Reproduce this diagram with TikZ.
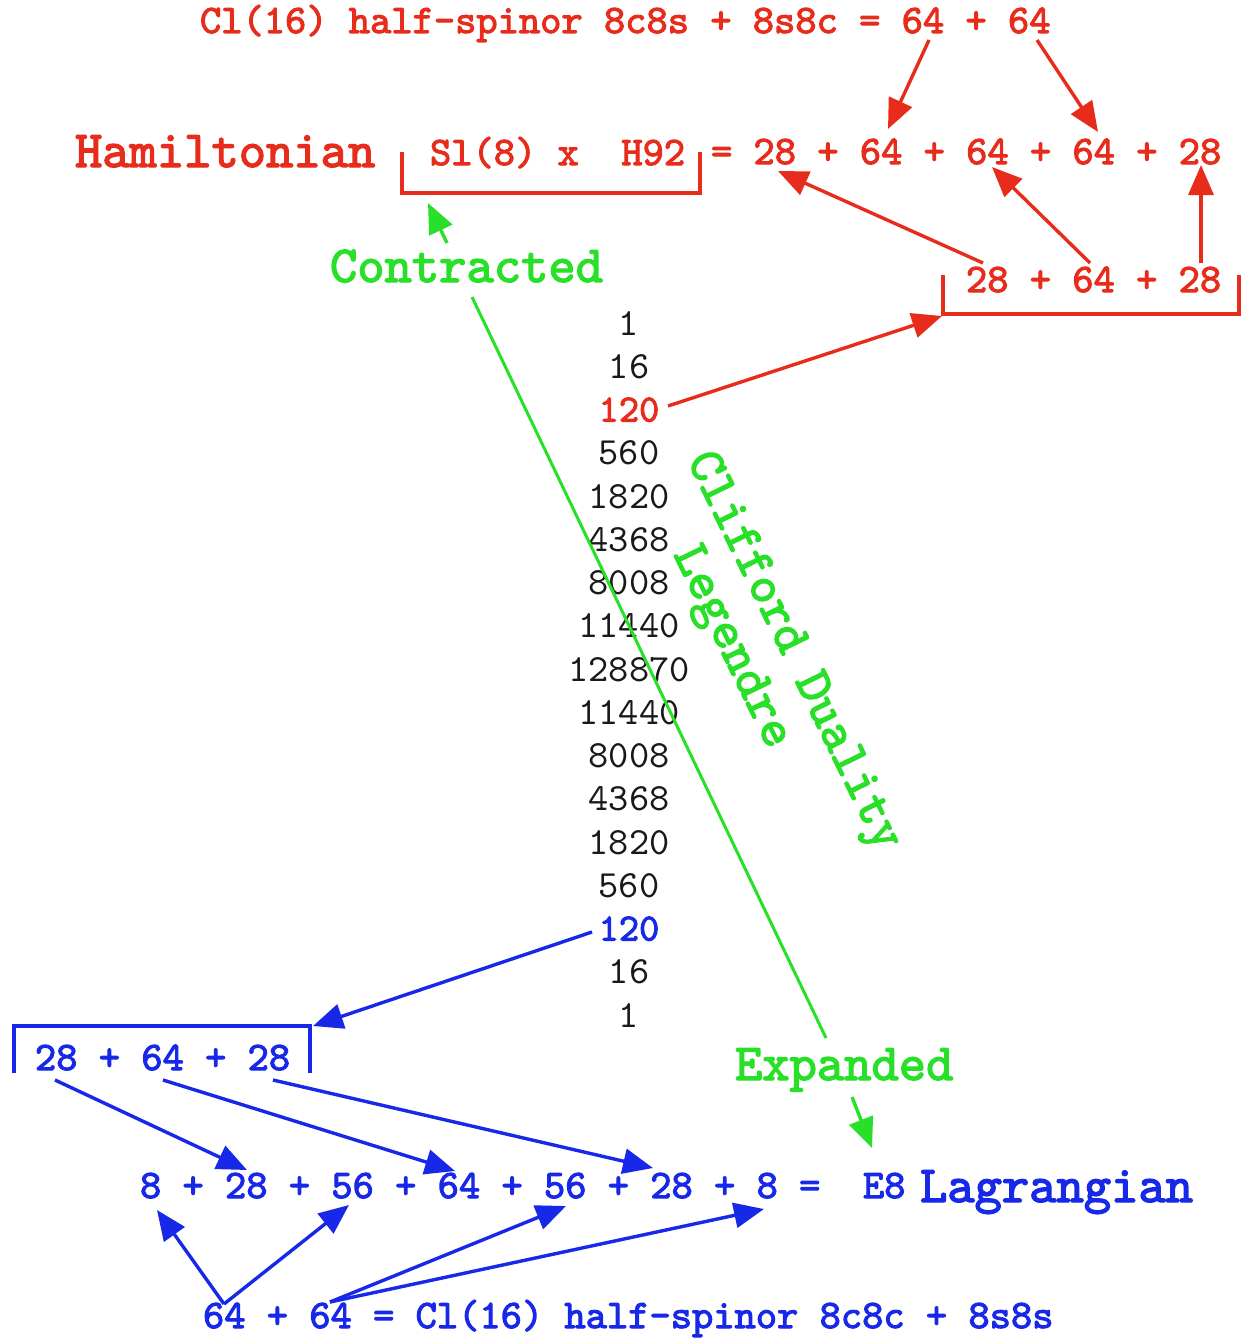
\documentclass[tikz,border=0pt]{standalone}
\usepackage{fontspec}
\usetikzlibrary{arrows.meta}
\newfontfamily\monob{lmmono10-regular.otf}[FakeBold=2.6]
\newfontfamily\monor{lmmono10-regular.otf}
\definecolor{myred}{RGB}{232,44,28}
\definecolor{myblue}{RGB}{24,40,232}
\definecolor{mygreen}{RGB}{40,224,40}
\definecolor{myblack}{RGB}{25,25,25}
\newcommand{\fmain}{\monob\fontsize{40.5}{48}\selectfont}
\newcommand{\fbig}{\monob\fontsize{52}{60}\selectfont}
\newcommand{\fcol}{\monor\fontsize{38.5}{44}\selectfont}
\newcommand{\fcolb}{\monob\fontsize{38.5}{44}\selectfont}
\begin{document}
\begin{tikzpicture}[x=1pt,y=-1pt,
  txt/.style={inner sep=0pt, outer sep=0pt, anchor=base west},
  colnum/.style={inner sep=0pt, outer sep=0pt, anchor=base, font=\fcol, text=myblack},
  tip/.style={-{Triangle[length=30pt,width=25pt]}},
  redarrow/.style={draw=myred, line width=3.4pt, tip},
  bluearrow/.style={draw=myblue, line width=3.4pt, tip},
  greenarrow/.style={draw=mygreen, line width=3.4pt, tip},
  greenline/.style={draw=mygreen, line width=3pt},
  redbracket/.style={draw=myred, line width=3.2pt},
  bluebracket/.style={draw=myblue, line width=3.2pt}]
\useasboundingbox (0,0) rectangle (1246,1338);
\fill[white] (0,0) rectangle (1246,1338);

% ---------------- red part ----------------
\node[txt, text=myred, font=\fmain] (topred) at (200,33) {Cl(16) half-spinor 8c8s + 8s8c = 64 + 64};
\node[txt, text=myred, font=\fbig] (ham) at (75,167) {Hamiltonian};
\node[txt, text=myred, font=\fmain] (slh) at (430,165) {Sl(8) x\ \ H92};
\node[txt, text=myred, font=\fmain] (redrow) at (711,164) {= 28 + 64 + 64 + 64 + 28};
\node[txt, text=myred, font=\fmain] (redsub) at (966,292) {28 + 64 + 28};

\coordinate (rb1a) at (402,152); \coordinate (rb1b) at (402,193);
\coordinate (rb1c) at (700,193); \coordinate (rb1d) at (700,152);
\draw[redbracket] (rb1a) -- (rb1b) -- (rb1c) -- (rb1d);
\coordinate (rb2a) at (943,275); \coordinate (rb2b) at (943,314);
\coordinate (rb2c) at (1239,314); \coordinate (rb2d) at (1239,275);
\draw[redbracket] (rb2a) -- (rb2b) -- (rb2c) -- (rb2d);

\coordinate (r1s) at (929,40);  \coordinate (r1e) at (888,129);
\coordinate (r2s) at (1037,40); \coordinate (r2e) at (1098,132);
\coordinate (r3s) at (983,263); \coordinate (r3e) at (778,171);
\coordinate (r4s) at (1090,263); \coordinate (r4e) at (992,167);
\coordinate (r5s) at (1201,263); \coordinate (r5e) at (1201,165);
\coordinate (r6s) at (668,406); \coordinate (r6e) at (942,316);
\draw[redarrow] (r1s) -- (r1e);
\draw[redarrow] (r2s) -- (r2e);
\draw[redarrow] (r3s) -- (r3e);
\draw[redarrow] (r4s) -- (r4e);
\draw[redarrow] (r5s) -- (r5e);
\draw[redarrow] (r6s) -- (r6e);

% ---------------- column ----------------
\node[colnum] (n1) at (629,335) {1};
\node[colnum] (n2) at (629,378.25) {16};
\node[colnum, text=myred, font=\fcolb] (n3) at (629,421.5) {120};
\node[colnum] (n4) at (629,464.75) {560};
\node[colnum] (n5) at (629,508) {1820};
\node[colnum] (n6) at (629,551.25) {4368};
\node[colnum] (n7) at (629,594.5) {8008};
\node[colnum] (n8) at (629,637.75) {11440};
\node[colnum] (n9) at (629,681) {128870};
\node[colnum] (n10) at (629,724.25) {11440};
\node[colnum] (n11) at (629,767.5) {8008};
\node[colnum] (n12) at (629,810.75) {4368};
\node[colnum] (n13) at (629,854) {1820};
\node[colnum] (n14) at (629,897.25) {560};
\node[colnum, text=myblue, font=\fcolb] (n15) at (629,940.5) {120};
\node[colnum] (n16) at (629,983.75) {16};
\node[colnum] (n17) at (629,1027) {1};

% ---------------- green part ----------------
\node[txt, text=mygreen, font=\fbig] (contr) at (330,282) {Contracted};
\node[txt, text=mygreen, font=\fbig] (expd) at (735,1080) {Expanded};
\node[inner sep=0pt, rotate=-64, text=mygreen, font=\fbig] (cliff) at (792,652) {Clifford Duality};
\node[inner sep=0pt, rotate=-64, text=mygreen, font=\fbig] (leg) at (730,648) {Legendre};
\coordinate (g1s) at (447,243); \coordinate (g1e) at (428,203);
\coordinate (g2s) at (472,297); \coordinate (g2e) at (826,1038);
\coordinate (g3s) at (852,1097); \coordinate (g3e) at (872,1148);
\draw[greenarrow] (g1s) -- (g1e);
\draw[greenline] (g2s) -- (g2e);
\draw[greenarrow] (g3s) -- (g3e);

% ---------------- blue part ----------------
\node[txt, text=myblue, font=\fmain] (bluesub) at (35,1070) {28 + 64 + 28};
\node[txt, text=myblue, font=\fmain] (bluerow) at (140,1198) {8 + 28 + 56 + 64 + 56 + 28 + 8 =\ \ E8};
\node[txt, text=myblue, font=\fbig] (lag) at (920,1202) {Lagrangian};
\node[txt, text=myblue, font=\fmain] (botblue) at (203,1328) {64 + 64 = Cl(16) half-spinor 8c8c + 8s8s};

\coordinate (bba) at (14,1073); \coordinate (bbb) at (14,1026);
\coordinate (bbc) at (310,1026); \coordinate (bbd) at (310,1073);
\draw[bluebracket] (bba) -- (bbb) -- (bbc) -- (bbd);

\coordinate (b1s) at (55,1080);  \coordinate (b1e) at (247,1170);
\coordinate (b2s) at (163,1080); \coordinate (b2e) at (455,1171);
\coordinate (b3s) at (273,1080); \coordinate (b3e) at (653,1168);
\coordinate (b45s) at (224,1304); \coordinate (b4e) at (157,1210);
\coordinate (b5e) at (349,1205);
\coordinate (b67s) at (330,1302); \coordinate (b6e) at (566,1206);
\coordinate (b7e) at (764,1209);
\coordinate (b8s) at (592,932); \coordinate (b8e) at (313,1026);
\draw[bluearrow] (b1s) -- (b1e);
\draw[bluearrow] (b2s) -- (b2e);
\draw[bluearrow] (b3s) -- (b3e);
\draw[bluearrow] (b45s) -- (b4e);
\draw[bluearrow] (b45s) -- (b5e);
\draw[bluearrow] (b67s) -- (b6e);
\draw[bluearrow] (b67s) -- (b7e);
\draw[bluearrow] (b8s) -- (b8e);
\end{tikzpicture}
\end{document}
